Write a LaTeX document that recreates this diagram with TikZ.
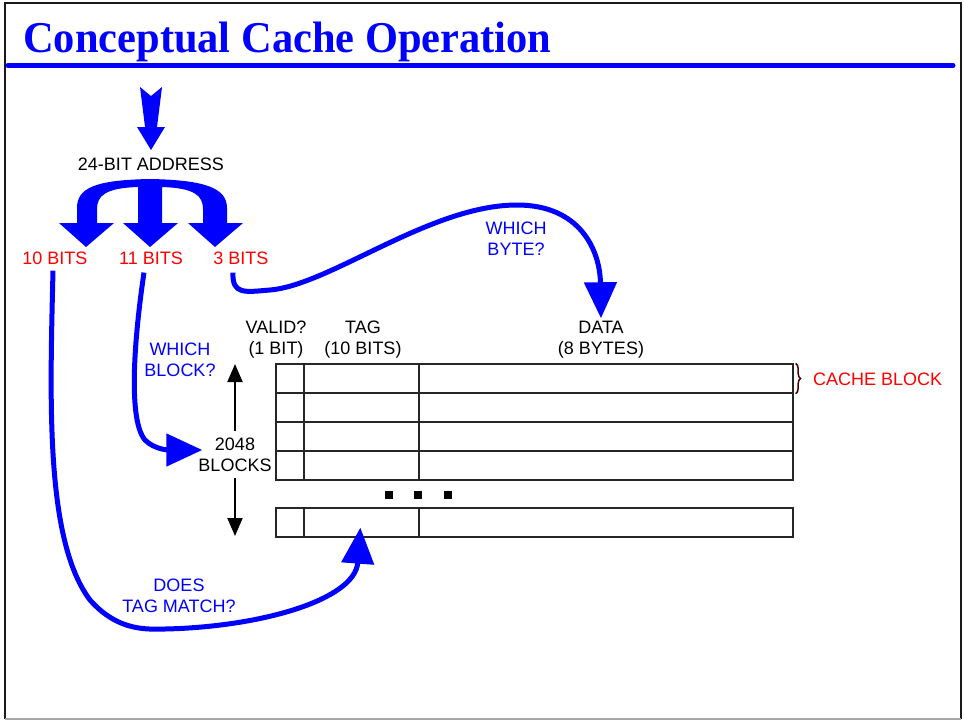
\documentclass[tikz,border=0pt]{standalone}
\usepackage{fontspec}
\setmainfont{Liberation Sans}
\newfontfamily\titlefont{Liberation Serif}
\usetikzlibrary{arrows.meta,calc,decorations.pathreplacing}

\definecolor{arrowblue}{RGB}{0,0,255}
\definecolor{labelred}{RGB}{255,0,0}

\tikzset{
  lbl/.style={inner sep=0pt, align=center, font=\fontsize{18}{21}\selectfont},
  bitlbl/.style={lbl, text=labelred},
  qlbl/.style={lbl, text=arrowblue},
  flow/.style={draw=arrowblue, line width=5pt,
    -{Triangle[length=36pt,width=32pt]}},
  cell/.style={draw=black!85, line width=1.3pt, inner sep=0pt, minimum height=29pt},
  extent/.style={line width=2pt, -{Triangle[length=18pt,width=15pt]}},
  bigarrow/.style={fill=arrowblue, draw=none},
  dot/.style={fill=black, minimum size=8pt, inner sep=0pt}
}

\begin{document}
\begin{tikzpicture}[x=1pt, y=-1pt]
\useasboundingbox (0,0) rectangle (964,721);
\fill[white] (0,0) rectangle (964,721);

% page frame
\draw[black!90, line width=2.5pt] (5,719) -- (5,3) -- (961,3) -- (961,719);
\draw[black!35, line width=1.5pt] (5,719) -- (961,719);

% title and rule
\node[anchor=base west, inner sep=0pt, text=arrowblue,
      font=\titlefont\bfseries\fontsize{44}{48}\selectfont]
  (title) at (23,52) {\scalebox{0.965}[1]{Conceptual Cache Operation}};
\draw[arrowblue, line width=5pt, line cap=round] (8,65.5) -- (953,65.5);

% address and its fields
\node[lbl] (addr) at (151,164) {24-BIT ADDRESS};
\node[bitlbl] (ten) at (55,258) {10 BITS};
\node[bitlbl] (eleven) at (151,258) {11 BITS};
\node[bitlbl] (three) at (241,258) {3 BITS};

% incoming address arrow
\path[bigarrow] (140,87) -- (151,96) -- (162,87) -- (157,127) -- (165,127)
  -- (151,150) -- (137,127) -- (145,127) -- cycle;

% three-way split arrow
\path[bigarrow] (77,224) -- (77,208) .. controls (77,188) and (95,180) .. (150,179)
  .. controls (205,180) and (227,188) .. (227,208) -- (227,224) -- (203,224)
  -- (203,209) .. controls (203,196) and (195,188) .. (162,187) -- (162,224)
  -- (138,224) -- (138,187) .. controls (105,188) and (97,196) .. (97,209)
  -- (97,224) -- cycle;
\path[bigarrow] (59,223) -- (114,223) -- (86,247) -- cycle;
\path[bigarrow] (123,223) -- (178,223) -- (150,247) -- cycle;
\path[bigarrow] (188,223) -- (243,223) -- (215,247) -- cycle;

% column headings
\node[lbl] (hvalid) at (276,340) {VALID?\\(1 BIT)};
\node[lbl] (htag) at (363,340) {TAG\\(10 BITS)};
\node[lbl] (hdata) at (601,340) {DATA\\(8 BYTES)};

% cache rows
\foreach \r/\y in {1/378.5, 2/407.5, 3/436.5, 4/465.5, L/522.5} {
  \node[cell, minimum width=28pt] (v\r) at (290,\y) {};
  \node[cell, minimum width=115pt] (t\r) at (361.5,\y) {};
  \node[cell, minimum width=374pt] (d\r) at (606,\y) {};
}
\node[dot] (dotA) at (389,495) {};
\node[dot] (dotB) at (418,495) {};
\node[dot] (dotC) at (448,495) {};

% one cache block
\draw[black!70!red, line width=1.5pt, decorate,
      decoration={brace, amplitude=5pt}]
  ([xshift=2pt]d1.north east) -- ([xshift=2pt]d1.south east);
\node[bitlbl, anchor=west] (cblock) at (813,379) {CACHE BLOCK};

% number of blocks
\node[lbl] (blocks) at (235,455) {2048\\BLOCKS};
\coordinate (colTop) at (235,364);
\coordinate (colBot) at (235,536);
\draw[extent] ([yshift=7pt]blocks.north) -- (colTop);
\draw[extent] ([yshift=-6pt]blocks.south) -- (colBot);

% questions asked of each field
\node[qlbl] (qblock) at (180,360) {WHICH\\BLOCK?};
\node[qlbl] (qbyte) at (516,239) {WHICH\\BYTE?};
\node[qlbl] (qtag) at (179,596) {DOES\\TAG MATCH?};

\coordinate (tagHit) at ($(tL.south west)+(57,-10)$);

\draw[flow] ([xshift=-2pt,yshift=-6pt]ten.south)
  .. controls (50,400) and (45,540) .. (90,600)
  .. controls (115,628) and (140,630) .. (165,629)
  .. controls (260,627) and (355,600) .. (tagHit);

\draw[flow] ([xshift=-7pt,yshift=-8pt]eleven.south)
  .. controls (134,340) and (128,420) .. (145,440)
  .. controls (155,450) and (170,450) .. ([xshift=4pt,yshift=5pt]blocks.west);

\draw[flow] ([xshift=-8pt,yshift=-8pt]three.south)
  .. controls (232,295) and (245,292) .. (270,290)
  .. controls (330,285) and (430,205) .. (517,205)
  .. controls (580,205) and (600,250) .. ([yshift=3pt]hdata.north);
\end{tikzpicture}
\end{document}
